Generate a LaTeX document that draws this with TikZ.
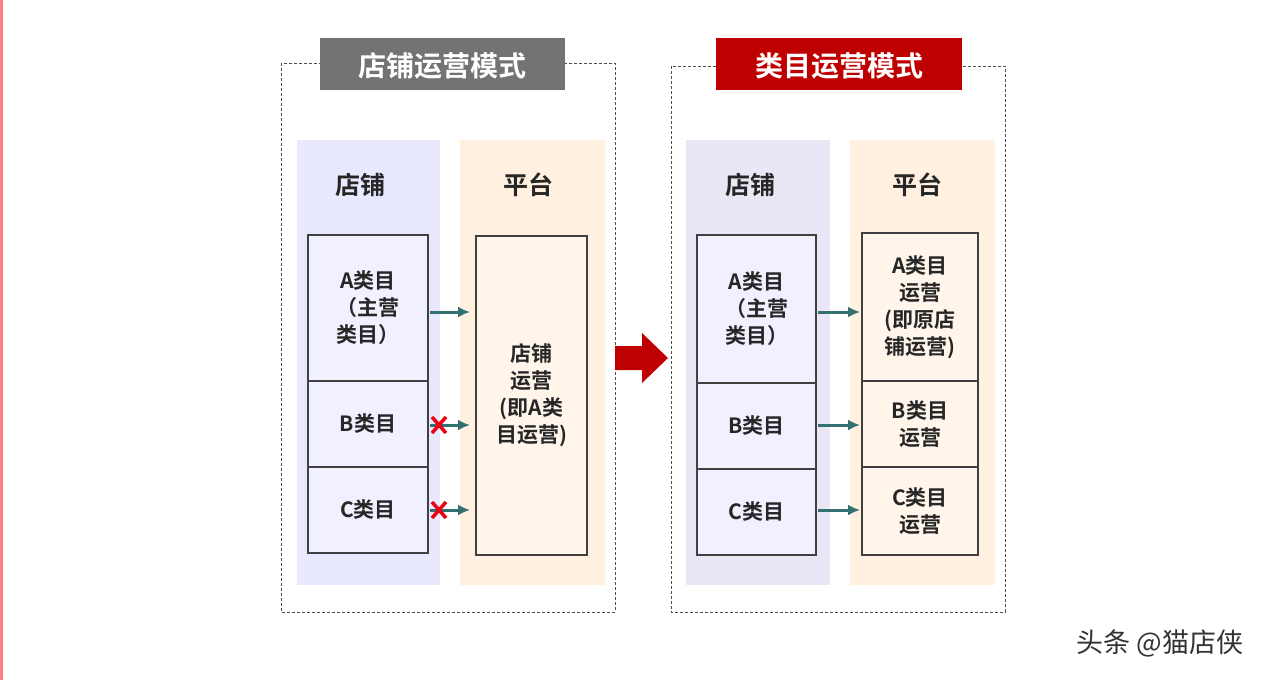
\documentclass[tikz,border=0pt]{standalone}
\usepackage{fontspec}
\usetikzlibrary{arrows.meta}
\setmainfont{Noto Sans CJK SC}
\newfontfamily\cjkb{Noto Sans CJK SC Bold}
\begin{document}
\begin{tikzpicture}[x=1pt,y=-1pt,
  dbox/.style={draw=black!70,densely dashed,line width=1pt},
  lab/.style={font=\cjkb\fontsize{21}{27}\selectfont,text=black!85,align=center},
  head/.style={font=\cjkb\fontsize{25}{29}\selectfont,text=black!85},
  cell/.style={draw=black!75,line width=1.5pt},
  arr/.style={-{Latex[length=12pt,width=11pt]},line width=3pt,draw=teal!60!black!80},
  title/.style={font=\cjkb\fontsize{28}{32}\selectfont,text=white,inner sep=0pt}]
\useasboundingbox (0,0) rectangle (1282,680);
\fill[white] (0,0) rectangle (1282,680);
\fill[red!50] (0,0) rectangle (3,680);
% left module
\draw[dbox] (281,63) rectangle (615,612);
\fill[blue!9] (297,140) rectangle (440,585);
\fill[orange!12] (460,140) rectangle (605,585);
\fill[black!55] (320,38) rectangle (565,90);
\node[title] (t1) at (442,66) {店铺运营模式};
\node[head] (h1) at (360,185) {店铺};
\node[head] (h2) at (528,185) {平台};
\draw[cell,fill=blue!6] (308,235) rectangle (428,381) node[midway,lab] (la) {A类目\\（主营\\类目）};
\draw[cell,fill=blue!6] (308,381) rectangle (428,467) node[midway,lab] (lb) {B类目};
\draw[cell,fill=blue!6] (308,467) rectangle (428,553) node[midway,lab] (lc) {C类目};
\draw[cell,fill=orange!8] (476,236) rectangle (587,555) node[midway,lab] (lp) {店铺\\运营\\(即A类\\目运营)};
\coordinate (pa) at (470,312); \coordinate (pb) at (470,425); \coordinate (pc) at (470,510);
\coordinate (sa) at (430,312); \coordinate (sb) at (430,425); \coordinate (sc) at (430,510);
\draw[arr] (sa) -- (pa);
\draw[arr] (sb) -- (pb);
\draw[arr] (sc) -- (pc);
\foreach \y in {425,510}{\draw[line width=3.5pt,draw=red!70!purple] (432,\y-8) -- (446,\y+8) (432,\y+8) -- (446,\y-8);}
% big arrow
\fill[red!75!black] (615,346) -- (642,346) -- (642,333) -- (668,358) -- (642,383) -- (642,370) -- (615,370) -- cycle;
% right module
\draw[dbox] (671,66) rectangle (1005,612);
\fill[cyan!5!blue!8] (686,140) rectangle (830,585);
\fill[orange!12] (850,140) rectangle (995,585);
\fill[red!75!black] (716,38) rectangle (962,90);
\node[title] (t2) at (839,66) {类目运营模式};
\node[head] (h3) at (750,185) {店铺};
\node[head] (h4) at (917,185) {平台};
\draw[cell,fill=blue!6] (697,235) rectangle (816,383) node[midway,lab] (ra) {A类目\\（主营\\类目）};
\draw[cell,fill=blue!6] (697,383) rectangle (816,469) node[midway,lab] (rb) {B类目};
\draw[cell,fill=blue!6] (697,469) rectangle (816,555) node[midway,lab] (rc) {C类目};
\draw[cell,fill=orange!8] (862,233) rectangle (978,381) node[midway,lab] (qa) {A类目\\运营\\(即原店\\铺运营)};
\draw[cell,fill=orange!8] (862,381) rectangle (978,467) node[midway,lab] (qb) {B类目\\运营};
\draw[cell,fill=orange!8] (862,467) rectangle (978,555) node[midway,lab] (qc) {C类目\\运营};
\coordinate (ua) at (818,312); \coordinate (ub) at (818,425); \coordinate (uc) at (818,510);
\coordinate (va) at (860,312); \coordinate (vb) at (860,425); \coordinate (vc) at (860,510);
\draw[arr] (ua) -- (va);
\draw[arr] (ub) -- (vb);
\draw[arr] (uc) -- (vc);
\node[font=\fontsize{27}{31}\selectfont,text=black!80] (wm) at (1160,643) {头条 @猫店侠};
\end{tikzpicture}
\end{document}
